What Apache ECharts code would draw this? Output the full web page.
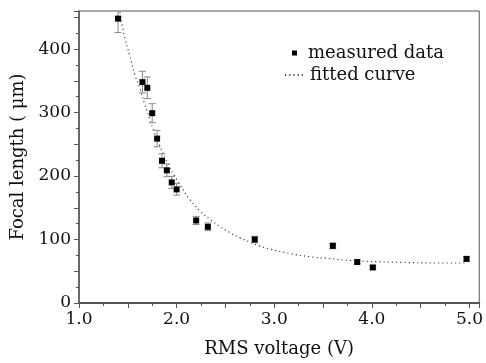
<!DOCTYPE html>
<html><head><meta charset="utf-8">
<script src="https://cdn.jsdelivr.net/npm/echarts@6/dist/echarts.min.js"></script>
<style>html,body{margin:0;padding:0;background:#fff}#c{width:486px;height:363px}</style>
</head><body><div id="c"></div>
<script>
// measured data
const voltage = [1.40, 1.65, 1.70, 1.75, 1.80, 1.85, 1.90, 1.95, 2.00, 2.20, 2.32, 2.80, 3.60, 3.85, 4.01, 4.97];
const focal   = [448, 348, 339, 299, 259, 224, 209, 190, 179, 130, 120, 100, 90, 64.5, 56, 69.5];
const focalErr= [22, 17, 17, 15, 13, 11, 10, 9.5, 9, 6.5, 6, 5, 4.5, 3, 3, 3.5];
// fitted curve
const fitX = [1.42, 1.47, 1.52, 1.573, 1.624, 1.675, 1.726, 1.767, 1.829, 1.93, 1.98, 2.03, 2.136, 2.24, 2.34, 2.44, 2.545, 2.647, 2.75, 2.85, 2.954, 3.16, 3.36, 3.57, 3.77, 3.98, 4.31, 4.66, 4.97];
const fitY = [458, 417, 390, 359, 338, 312, 289, 270, 247, 213, 200, 187, 163, 145, 132, 121, 111, 103, 96, 90, 85, 78, 73, 70, 67, 65.4, 64, 63, 63];
const xLabels = ['1.0','2.0','3.0','4.0','5.0'];
const yLabels = ['0','100','200','300','400'];

const FONT = 'DejaVu Serif';
const chart = echarts.init(document.getElementById('c'), null, {renderer:'canvas'});
const pts = voltage.map((v,i)=>[v, focal[i]]);
const errData = voltage.map((v,i)=>[v, focal[i]-focalErr[i], focal[i]+focalErr[i]]);
const fit = fitX.map((v,i)=>[v, fitY[i]]);

chart.setOption({
  animation:false,
  backgroundColor:'#fff',
  grid:{left:79, right:6, top:11, bottom:59, show:true, borderColor:'#555', borderWidth:1},
  legend:[
    {data:[{name:'measured data', icon:'rect'}], left:287, top:39, orient:'vertical', itemWidth:5, itemHeight:5, itemGap:0,
     textStyle:{fontFamily:FONT, fontSize:18, color:'#111', padding:[0,0,0,6]}},
    {data:[{name:'fitted curve', itemStyle:{opacity:0}}], left:279, top:61, orient:'vertical', itemWidth:19, itemHeight:6, itemGap:0,
     textStyle:{fontFamily:FONT, fontSize:18, color:'#111', padding:[0,0,0,1]}}
  ],
  xAxis:{type:'value', min:1, max:5.1, interval:0.5,
    name:'RMS voltage (V)', nameLocation:'middle', nameGap:37,
    nameTextStyle:{fontFamily:FONT, fontSize:18, color:'#111'},
    axisLine:{lineStyle:{color:'#555', width:2}},
    axisTick:{show:true, length:5, lineStyle:{color:'#555'}},
    minorTick:{show:true, splitNumber:2, length:3, lineStyle:{color:'#555'}},
    splitLine:{show:false},
    axisLabel:{fontFamily:FONT, fontSize:17, color:'#111', margin:8,
      formatter:function(v){const i=Math.round(v)-1; return (Math.abs(v-Math.round(v))<1e-6 && xLabels[i]) ? xLabels[i] : '';}}
  },
  yAxis:{type:'value', min:0, max:460, interval:50,
    name:'Focal length ( μm)', nameLocation:'middle', nameGap:52,
    nameTextStyle:{fontFamily:FONT, fontSize:18, color:'#111'},
    axisLine:{show:true, lineStyle:{color:'#555', width:1.5}},
    axisTick:{show:true, length:5, lineStyle:{color:'#555'}},
    minorTick:{show:true, splitNumber:2, length:3, lineStyle:{color:'#555'}},
    splitLine:{show:false},
    axisLabel:{fontFamily:FONT, fontSize:17, color:'#111', margin:8,
      formatter:function(v){const i=Math.round(v/100); return (v%100===0 && yLabels[i]!==undefined) ? yLabels[i] : '';}}
  },
  series:[
    {name:'fitted curve', type:'line', data:fit, smooth:true, showSymbol:false, symbol:'none',
     lineStyle:{type:[1.2,3], color:'#444', width:1.2}, itemStyle:{color:'#444'}, z:2},
    {name:'error', type:'custom', data:errData, z:3, clip:true,
     renderItem:function(params, api){
       const x=api.value(0), lo=api.coord([x,api.value(1)]), hi=api.coord([x,api.value(2)]);
       const w=3.5;
       const st={stroke:'#888', lineWidth:1};
       return {type:'group', children:[
         {type:'line', shape:{x1:lo[0],y1:lo[1],x2:hi[0],y2:hi[1]}, style:st},
         {type:'line', shape:{x1:lo[0]-w,y1:lo[1],x2:lo[0]+w,y2:lo[1]}, style:st},
         {type:'line', shape:{x1:hi[0]-w,y1:hi[1],x2:hi[0]+w,y2:hi[1]}, style:st}
       ]};
     }},
    {name:'measured data', type:'scatter', data:pts, symbol:'rect', symbolSize:6,
     itemStyle:{color:'#000', opacity:1}, z:4}
  ]
});
</script></body></html>
